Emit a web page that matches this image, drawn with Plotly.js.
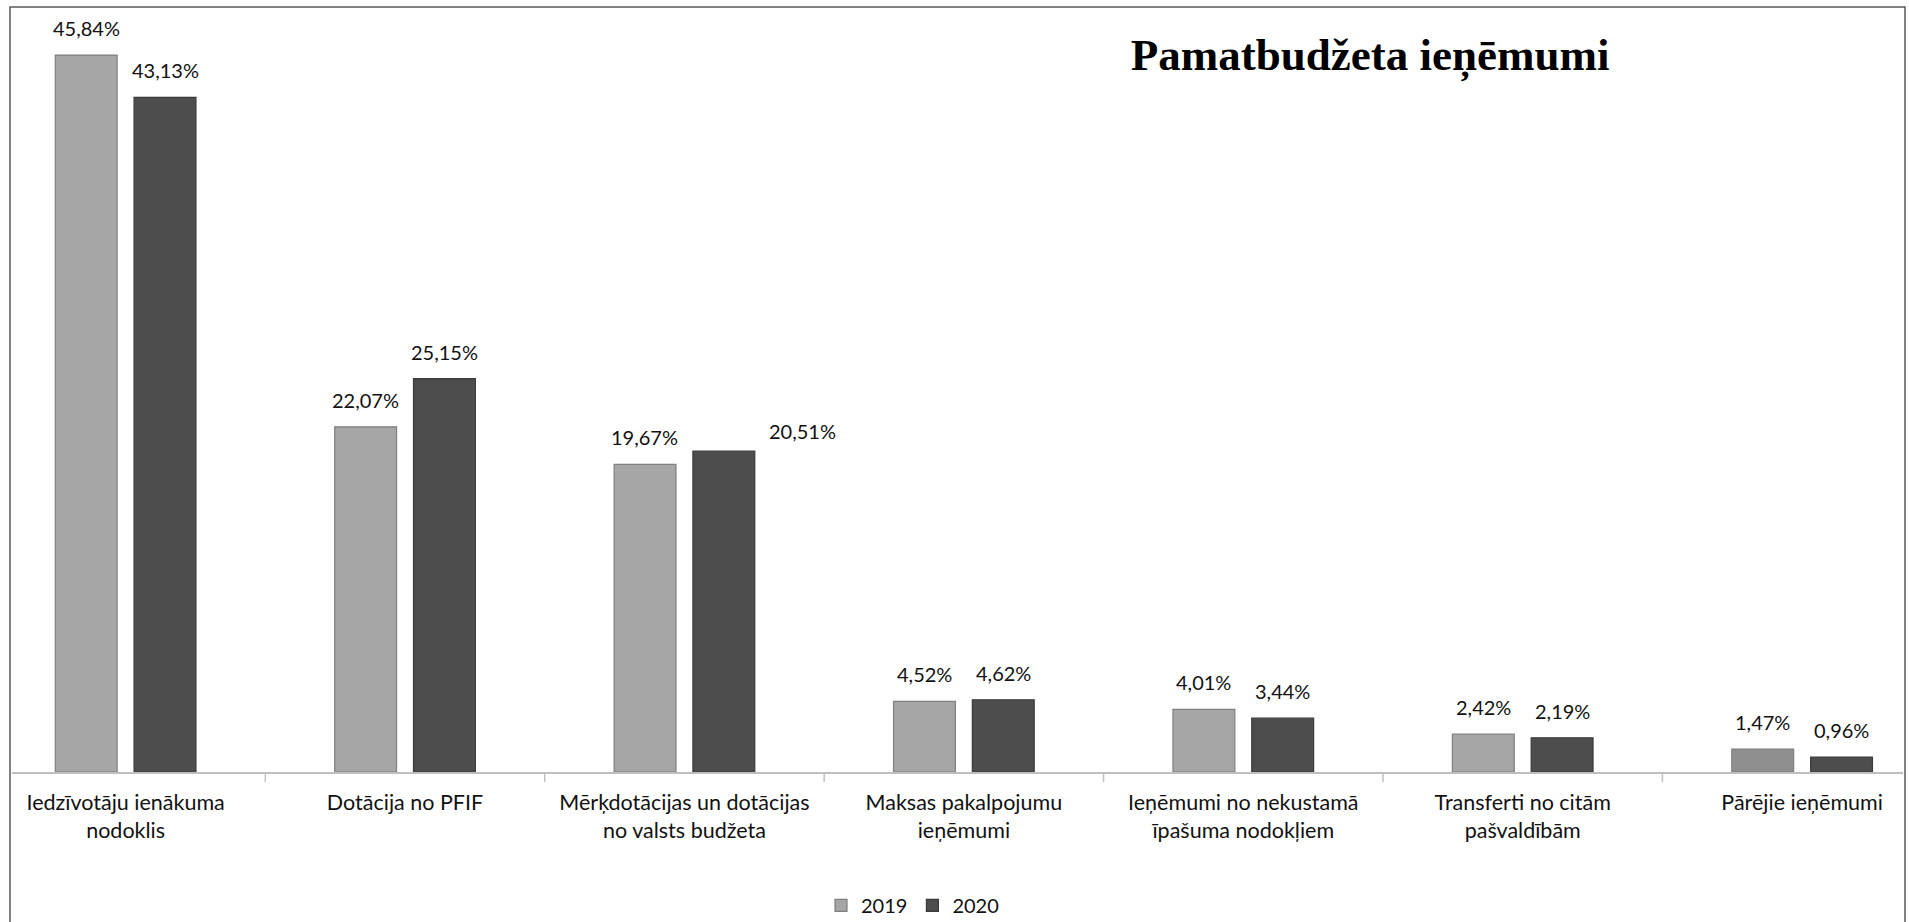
<!DOCTYPE html>
<html>
<head>
<meta charset="utf-8">
<script src="https://cdn.plot.ly/plotly-3.0.1.min.js"></script>
<style>
  html, body { margin: 0; padding: 0; background: #ffffff; }
  #chart { width: 1909px; height: 922px; }
</style>
</head>
<body>
<div id="chart"></div>
<script>
// ---- Data ----
const categories = [
  "Iedzīvotāju ienākuma<br>nodoklis",
  "Dotācija no PFIF",
  "Mērķdotācijas un dotācijas<br>no valsts budžeta",
  "Maksas pakalpojumu<br>ieņēmumi",
  "Ieņēmumi no nekustamā<br>īpašuma nodokļiem",
  "Transferti no citām<br>pašvaldībām",
  "Pārējie ieņēmumi"
];
const seriesNames = ["2019", "2020"];
const values2019 = [45.84, 22.07, 19.67, 4.52, 4.01, 2.42, 1.47];
const values2020 = [43.13, 25.15, 20.51, 4.62, 3.44, 2.19, 0.96];
const chartTitle = "Pamatbudžeta ieņēmumi";

// ---- Styles ----
const fill2019 = ["#A6A6A6", "#A6A6A6", "#A6A6A6", "#A6A6A6", "#A6A6A6", "#A6A6A6", "#8F8F8F"];
const fill2020 = "#4D4D4D";
const labelFont = { family: "Lato, 'Open Sans', sans-serif", size: 20, color: "#111111" };

function fmt(v) { return v.toFixed(2).replace(".", ",") + "%"; }

const idx = categories.map((_, i) => i);

const traces = [
  {
    type: "bar", name: seriesNames[0], x: idx, y: values2019,
    marker: { color: fill2019, line: { color: "#7F7F7F", width: 1.2 } },
    hoverinfo: "skip"
  },
  {
    type: "bar", name: seriesNames[1], x: idx, y: values2020,
    marker: { color: fill2020, line: { color: "#3A3A3A", width: 1.2 } },
    hoverinfo: "skip"
  }
];

// data labels
const annotations = [];
const halfSlot = 39.5;
[values2019, values2020].forEach((vals, s) => {
  vals.forEach((v, i) => {
    let xs = s === 0 ? -halfSlot : halfSlot;
    let ys = 27;
    if (s === 1 && i === 2) { xs += 79; ys = 20; }
    annotations.push({
      x: i, y: v, xref: "x", yref: "y",
      text: fmt(v), showarrow: false,
      xanchor: "center", yanchor: "middle",
      xshift: xs, yshift: ys,
      font: labelFont
    });
  });
});

const layout = {
  width: 1909, height: 922,
  paper_bgcolor: "#ffffff", plot_bgcolor: "#ffffff",
  margin: { l: 12, r: 6, t: 20, b: 150 },
  title: {
    text: chartTitle,
    font: { family: "'Liberation Serif', 'Times New Roman', serif", size: 45, weight: "bold", color: "#000000" },
    xref: "container", yref: "container",
    x: 0.7177, y: 0.941, xanchor: "center", yanchor: "middle"
  },
  barmode: "group",
  bargap: 0.436,
  bargroupgap: 0.215,
  showlegend: true,
  legend: {
    orientation: "h",
    xref: "container", yref: "container",
    x: 0.478, y: 0.018, xanchor: "center", yanchor: "middle",
    font: { family: "Lato, 'Open Sans', sans-serif", size: 20, color: "#111111" },
    itemwidth: 30, traceorder: "normal"
  },
  xaxis: {
    type: "linear",
    range: [-0.4066, 6.361],
    tickmode: "array",
    tickvals: idx,
    ticktext: categories,
    showgrid: false, zeroline: false,
    showline: true, linecolor: "#BFBFBF", linewidth: 2,
    ticks: "",
    tickfont: { family: "Lato, 'Open Sans', sans-serif", size: 21.5, color: "#111111" },
    ticklabelstandoff: 10,
    fixedrange: true
  },
  yaxis: {
    range: [0, 48.08],
    visible: false, showgrid: false, zeroline: false,
    fixedrange: true
  },
  annotations: annotations,
  shapes: []
};

// tick marks at category boundaries
for (let i = 0; i < categories.length - 1; i++) {
  layout.shapes.push({
    type: "line", xref: "x", yref: "paper",
    x0: i + 0.5, x1: i + 0.5, y0: 0, y1: -10 / 752,
    line: { color: "#BFBFBF", width: 1.5 }
  });
}
// outer frame
layout.shapes.push({
  type: "rect", xref: "paper", yref: "paper",
  x0: -0.00106, x1: 1.00106, y0: -0.5, y1: 1.0173,
  line: { color: "#5A5A5A", width: 1.5 }, fillcolor: "rgba(0,0,0,0)", layer: "above"
});

Plotly.newPlot("chart", traces, layout, { displayModeBar: false, staticPlot: true });
</script>
</body>
</html>
